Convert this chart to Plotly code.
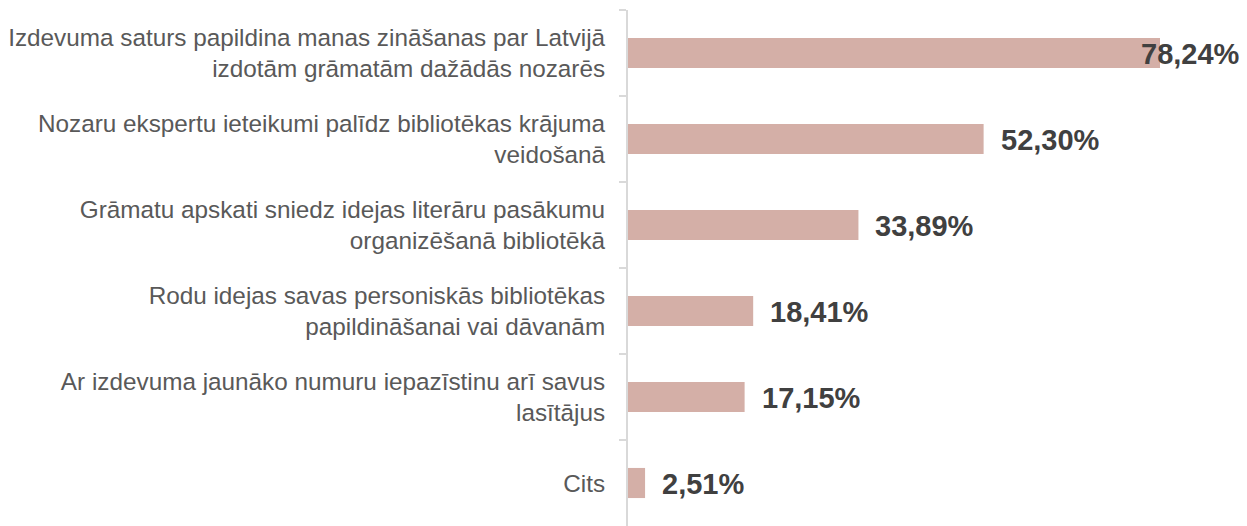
import plotly.graph_objects as go

categories = [
    "Izdevuma saturs papildina manas zināšanas par Latvijā<br>izdotām grāmatām dažādās nozarēs",
    "Nozaru ekspertu ieteikumi palīdz bibliotēkas krājuma<br>veidošanā",
    "Grāmatu apskati sniedz idejas literāru pasākumu<br>organizēšanā bibliotēkā",
    "Rodu idejas savas personiskās bibliotēkas<br>papildināšanai vai dāvanām",
    "Ar izdevuma jaunāko numuru iepazīstinu arī savus<br>lasītājus",
    "Cits",
]
values = [78.24, 52.30, 33.89, 18.41, 17.15, 2.51]
labels = ["78,24%", "52,30%", "33,89%", "18,41%", "17,15%", "2,51%"]

xmax = 90.3

fig = go.Figure()
fig.add_trace(go.Bar(
    x=values, y=categories, orientation="h",
    marker=dict(color="#D4AFA7", line=dict(width=0)),
    width=0.35, hoverinfo="skip",
))

vfont = dict(family="Liberation Sans, Arial", size=29, color="#404040")
annotations = []
for cat, v, lab in zip(categories, values, labels):
    if v > 0.8 * xmax:
        annotations.append(dict(x=1, xref="paper", y=cat, yref="y", text="<b>" + lab + "</b>",
                                showarrow=False, xanchor="right", yanchor="middle",
                                font=vfont, yshift=-1))
    else:
        annotations.append(dict(x=v, xref="x", y=cat, yref="y", text="<b>" + lab + "</b>",
                                showarrow=False, xanchor="left", yanchor="middle",
                                xshift=15, font=vfont, yshift=-1))

fig.update_layout(
    width=1247, height=526,
    margin=dict(l=628, r=5, t=10, b=0),
    paper_bgcolor="white", plot_bgcolor="white",
    showlegend=False,
    annotations=annotations,
    font=dict(family="Liberation Sans, Arial", color="#595959"),
    xaxis=dict(range=[0, xmax], visible=False, fixedrange=True),
    yaxis=dict(
        autorange="reversed",
        showline=True, linecolor="#D9D9D9", linewidth=2,
        ticks="outside", tickson="boundaries", ticklen=7, tickcolor="#D9D9D9", tickwidth=2,
        tickfont=dict(family="Liberation Sans, Arial", size=24.3, color="#595959"),
        ticklabelstandoff=16,
        showgrid=False, zeroline=False,
        fixedrange=True,
    ),
)

fig.write_html("out.html", config={"displayModeBar": False},
               post_script="document.body.style.margin='0';")
